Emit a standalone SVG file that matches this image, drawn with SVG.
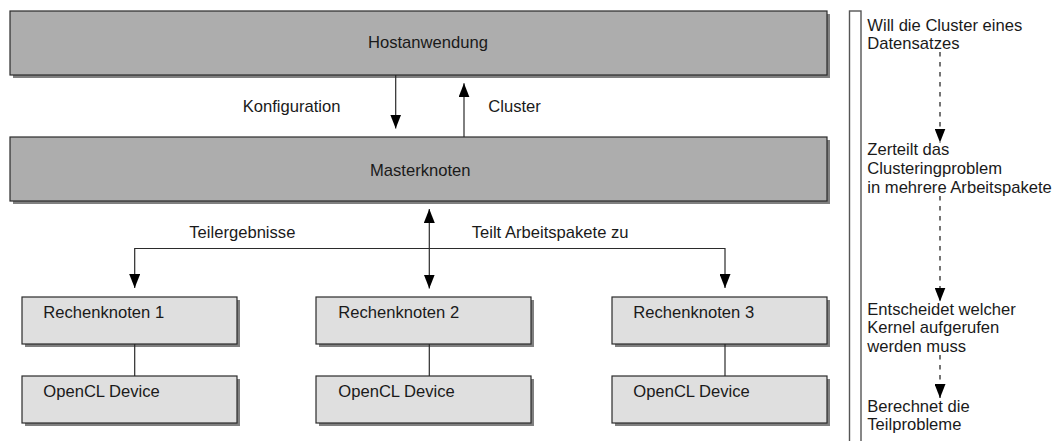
<svg xmlns="http://www.w3.org/2000/svg" width="1058" height="441" viewBox="0 0 1058 441">
<style>
  text { font-family: "Liberation Sans", Arial, Helvetica, sans-serif; font-size: 16.6px; fill: #1a1a1a; }
  .shadow { fill: #808080; stroke: none; }
  .big { fill: #adadad; stroke: #2b2b2b; stroke-width: 1.2; }
  .small { fill: #dfdfdf; stroke: #2b2b2b; stroke-width: 1.2; }
  .conn { fill: none; stroke: #2b2b2b; stroke-width: 1.2; }
  .dash { fill: none; stroke: #1a1a1a; stroke-width: 1.2; stroke-dasharray: 4.5 5.5; }
  .panel { fill: #ffffff; stroke: #555555; stroke-width: 1.4; }
</style>
<defs>
  <marker id="ah" markerUnits="userSpaceOnUse" markerWidth="14" markerHeight="11" refX="14" refY="5.5" orient="auto-start-reverse" viewBox="0 0 14 11">
    <path d="M0,0 L14,5.5 L0,11 z" fill="#000000"/>
  </marker>
</defs>
<rect width="1058" height="441" fill="#ffffff"/>

<g id="hostanwendung">
  <rect class="shadow" x="13" y="14" width="817" height="64"/>
  <rect class="big" x="10" y="11" width="817" height="64"/>
  <text x="368" y="47.7">Hostanwendung</text>
</g>

<g id="masterknoten">
  <rect class="shadow" x="13" y="140" width="817" height="64"/>
  <rect class="big" x="10" y="137" width="817" height="64"/>
  <text x="370" y="175.7">Masterknoten</text>
</g>

<g id="rechenknoten1">
  <rect class="shadow" x="25" y="300" width="215" height="47"/>
  <rect class="small" x="22" y="297" width="215" height="47"/>
  <text x="43.3" y="318">Rechenknoten 1</text>
</g>
<g id="rechenknoten2">
  <rect class="shadow" x="319" y="300" width="215" height="47"/>
  <rect class="small" x="316" y="297" width="215" height="47"/>
  <text x="338.3" y="318">Rechenknoten 2</text>
</g>
<g id="rechenknoten3">
  <rect class="shadow" x="615" y="300" width="215" height="47"/>
  <rect class="small" x="612" y="297" width="215" height="47"/>
  <text x="633.3" y="318">Rechenknoten 3</text>
</g>

<g id="device1">
  <rect class="shadow" x="25" y="379" width="215" height="47"/>
  <rect class="small" x="22" y="376" width="215" height="47"/>
  <text x="43.3" y="397.3">OpenCL Device</text>
</g>
<g id="device2">
  <rect class="shadow" x="319" y="379" width="215" height="47"/>
  <rect class="small" x="316" y="376" width="215" height="47"/>
  <text x="338.3" y="397.3">OpenCL Device</text>
</g>
<g id="device3">
  <rect class="shadow" x="615" y="379" width="215" height="47"/>
  <rect class="small" x="612" y="376" width="215" height="47"/>
  <text x="633.3" y="397.3">OpenCL Device</text>
</g>

<g id="connectors">
  <line class="conn" x1="395.7" y1="75" x2="395.7" y2="128.5" marker-end="url(#ah)"/>
  <line class="conn" x1="464" y1="137" x2="464" y2="83.3" marker-end="url(#ah)"/>
  <line class="conn" x1="429.3" y1="209" x2="429.3" y2="288.5" marker-start="url(#ah)" marker-end="url(#ah)"/>
  <path class="conn" d="M429.3,248.5 H134.7 V288" marker-end="url(#ah)"/>
  <path class="conn" d="M429.3,248.5 H725 V288" marker-end="url(#ah)"/>
  <line class="conn" x1="134.7" y1="344" x2="134.7" y2="376"/>
  <line class="conn" x1="429.3" y1="344" x2="429.3" y2="376"/>
  <line class="conn" x1="725" y1="344" x2="725" y2="376"/>
  <text x="242.7" y="111.7">Konfiguration</text>
  <text x="488.3" y="111.7">Cluster</text>
  <text x="189.3" y="238.3">Teilergebnisse</text>
  <text x="471.7" y="238.3">Teilt Arbeitspakete zu</text>
</g>

<g id="ablauf">
  <rect class="panel" x="849.5" y="11" width="11.5" height="440"/>
  <text x="867.3" y="30.5"><tspan x="867.3" y="30.5">Will die Cluster eines</tspan><tspan x="867.3" y="49.1">Datensatzes</tspan></text>
  <text x="867.3" y="155.4"><tspan x="867.3" y="155.4">Zerteilt das</tspan><tspan x="867.3" y="174">Clusteringproblem</tspan><tspan x="867.3" y="192.6">in mehrere Arbeitspakete</tspan></text>
  <text x="867.3" y="314.5"><tspan x="867.3" y="314.5">Entscheidet welcher</tspan><tspan x="867.3" y="333.1">Kernel aufgerufen</tspan><tspan x="867.3" y="351.7">werden muss</tspan></text>
  <text x="867.3" y="411.5"><tspan x="867.3" y="411.5">Berechnet die</tspan><tspan x="867.3" y="430.1">Teilprobleme</tspan></text>
  <line class="dash" x1="940" y1="52" x2="940" y2="142.5" marker-end="url(#ah)"/>
  <line class="dash" x1="940" y1="196" x2="940" y2="301.5" marker-end="url(#ah)"/>
  <line class="dash" x1="940" y1="355" x2="940" y2="398" marker-end="url(#ah)"/>
</g>
</svg>
